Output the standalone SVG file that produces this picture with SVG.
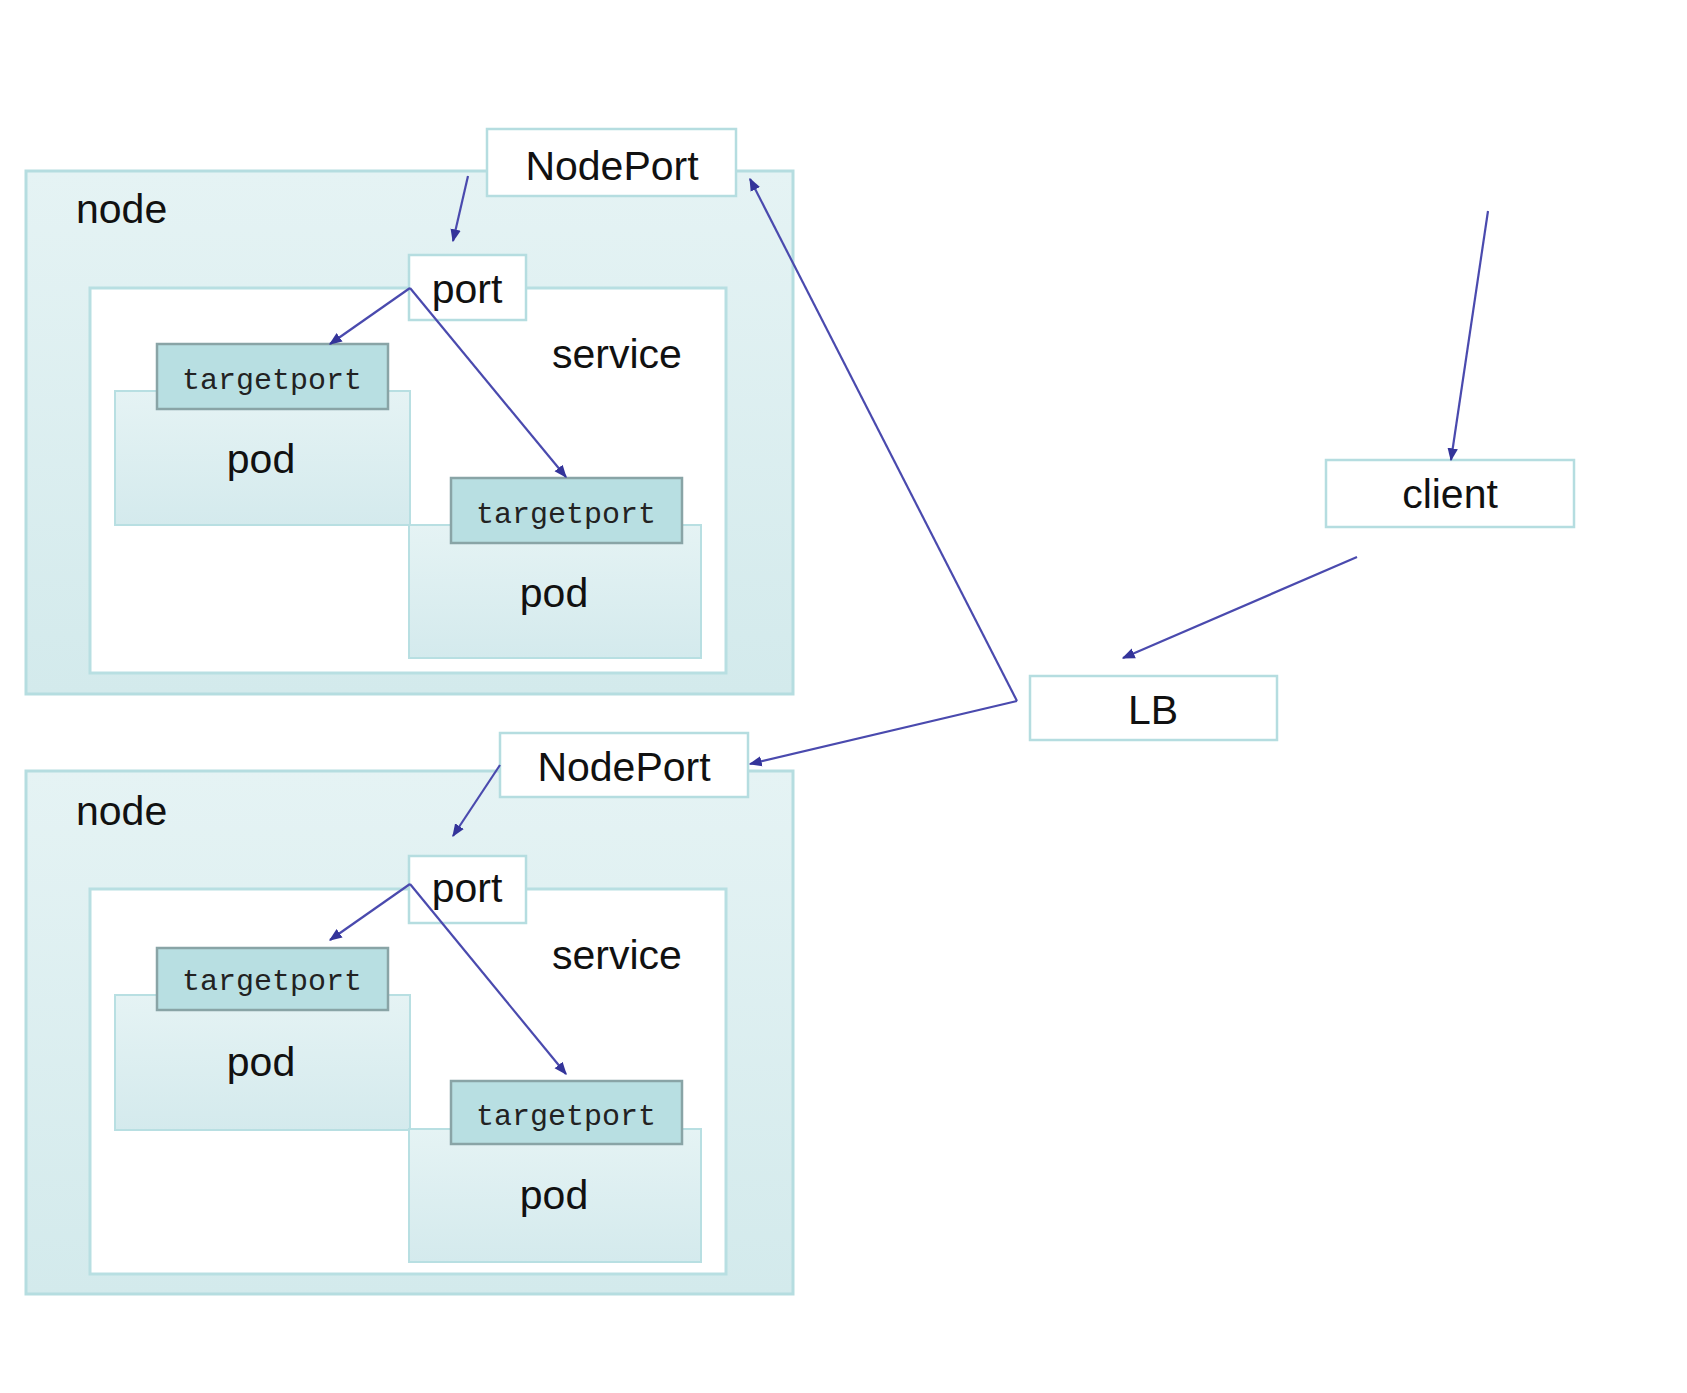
<svg xmlns="http://www.w3.org/2000/svg" width="1687" height="1393" viewBox="0 0 1687 1393">
<defs>
<linearGradient id="gNode" x1="0" y1="0" x2="0" y2="1">
<stop offset="0" stop-color="#e5f3f4"/>
<stop offset="1" stop-color="#d3eaec"/>
</linearGradient>
<linearGradient id="gPod" x1="0" y1="0" x2="0" y2="1">
<stop offset="0" stop-color="#e5f3f4"/>
<stop offset="1" stop-color="#d4eaed"/>
</linearGradient>
<marker id="arr" viewBox="0 0 10 10" refX="9" refY="5" markerWidth="13" markerHeight="13" markerUnits="userSpaceOnUse" orient="auto">
<path d="M0,1 L10,5 L0,9 Z" fill="#34349a"/>
</marker>
</defs>
<style>
.node{fill:url(#gNode);stroke:#b5dde0;stroke-width:3}
.svc{fill:#ffffff;stroke:#b8dfe2;stroke-width:3}
.pod{fill:url(#gPod);stroke:#b8dfe2;stroke-width:2}
.tp{fill:#b8dfe2;stroke:#89a4a6;stroke-width:2.5}
.box{fill:#ffffff;stroke:#b5dde0;stroke-width:2.5}
.t{font-family:"Liberation Sans",Arial,sans-serif;font-size:41px;fill:#111}
.c{text-anchor:middle}
.m{font-family:"Liberation Mono","Courier New",monospace;font-size:30px;fill:#222;text-anchor:middle}
.ln{fill:none;stroke:#4a4aae;stroke-width:2.2}
</style>
<rect width="1687" height="1393" fill="#ffffff"/>

<g id="node1">
<rect class="node" x="26" y="171" width="767" height="523"/>
<text class="t" x="76" y="223">node</text>
</g>
<g id="service1">
<rect class="svc" x="90" y="288" width="636" height="385"/>
<text class="t" x="552" y="368">service</text>
</g>
<g id="pod1">
<rect class="pod" x="115" y="391" width="295" height="134"/>
<text class="t c" x="261" y="473">pod</text>
</g>
<g id="pod2">
<rect class="pod" x="409" y="525" width="292" height="133"/>
<text class="t c" x="554" y="607">pod</text>
</g>
<g id="targetport1">
<rect class="tp" x="157" y="344" width="231" height="65"/>
<text class="m" x="272" y="389">targetport</text>
</g>
<g id="targetport2">
<rect class="tp" x="451" y="478" width="231" height="65"/>
<text class="m" x="566" y="523">targetport</text>
</g>
<g id="port1">
<rect class="box" x="409" y="255" width="117" height="65"/>
<text class="t c" x="467" y="303">port</text>
</g>
<g id="nodeport1">
<rect class="box" x="487" y="129" width="249" height="67"/>
<text class="t c" x="612" y="180">NodePort</text>
</g>

<g id="node2">
<rect class="node" x="26" y="771" width="767" height="523"/>
<text class="t" x="76" y="825">node</text>
</g>
<g id="service2">
<rect class="svc" x="90" y="889" width="636" height="385"/>
<text class="t" x="552" y="969">service</text>
</g>
<g id="pod3">
<rect class="pod" x="115" y="995" width="295" height="135"/>
<text class="t c" x="261" y="1076">pod</text>
</g>
<g id="pod4">
<rect class="pod" x="409" y="1129" width="292" height="133"/>
<text class="t c" x="554" y="1209">pod</text>
</g>
<g id="targetport3">
<rect class="tp" x="157" y="948" width="231" height="62"/>
<text class="m" x="272" y="990">targetport</text>
</g>
<g id="targetport4">
<rect class="tp" x="451" y="1081" width="231" height="63"/>
<text class="m" x="566" y="1125">targetport</text>
</g>
<g id="port2">
<rect class="box" x="409" y="856" width="117" height="67"/>
<text class="t c" x="467" y="902">port</text>
</g>
<g id="nodeport2">
<rect class="box" x="500" y="733" width="248" height="64"/>
<text class="t c" x="624" y="781">NodePort</text>
</g>

<g id="client">
<rect class="box" x="1326" y="460" width="248" height="67"/>
<text class="t c" x="1450" y="508">client</text>
</g>
<g id="lb">
<rect class="box" x="1030" y="676" width="247" height="64"/>
<text class="t c" x="1153" y="724">LB</text>
</g>

<g id="connectors">
<line class="ln" x1="468" y1="176" x2="453" y2="241" marker-end="url(#arr)"/>
<line class="ln" x1="410" y1="288" x2="330" y2="344" marker-end="url(#arr)"/>
<line class="ln" x1="410" y1="288" x2="566" y2="477" marker-end="url(#arr)"/>
<line class="ln" x1="500" y1="765" x2="453" y2="836" marker-end="url(#arr)"/>
<line class="ln" x1="410" y1="884" x2="330" y2="940" marker-end="url(#arr)"/>
<line class="ln" x1="410" y1="884" x2="566" y2="1074" marker-end="url(#arr)"/>
<line class="ln" x1="1488" y1="211" x2="1451" y2="460" marker-end="url(#arr)"/>
<line class="ln" x1="1357" y1="557" x2="1123" y2="658" marker-end="url(#arr)"/>
<polyline class="ln" points="1017,701 750,179" marker-end="url(#arr)"/>
<polyline class="ln" points="1017,701 750,764" marker-end="url(#arr)"/>
</g>
</svg>
